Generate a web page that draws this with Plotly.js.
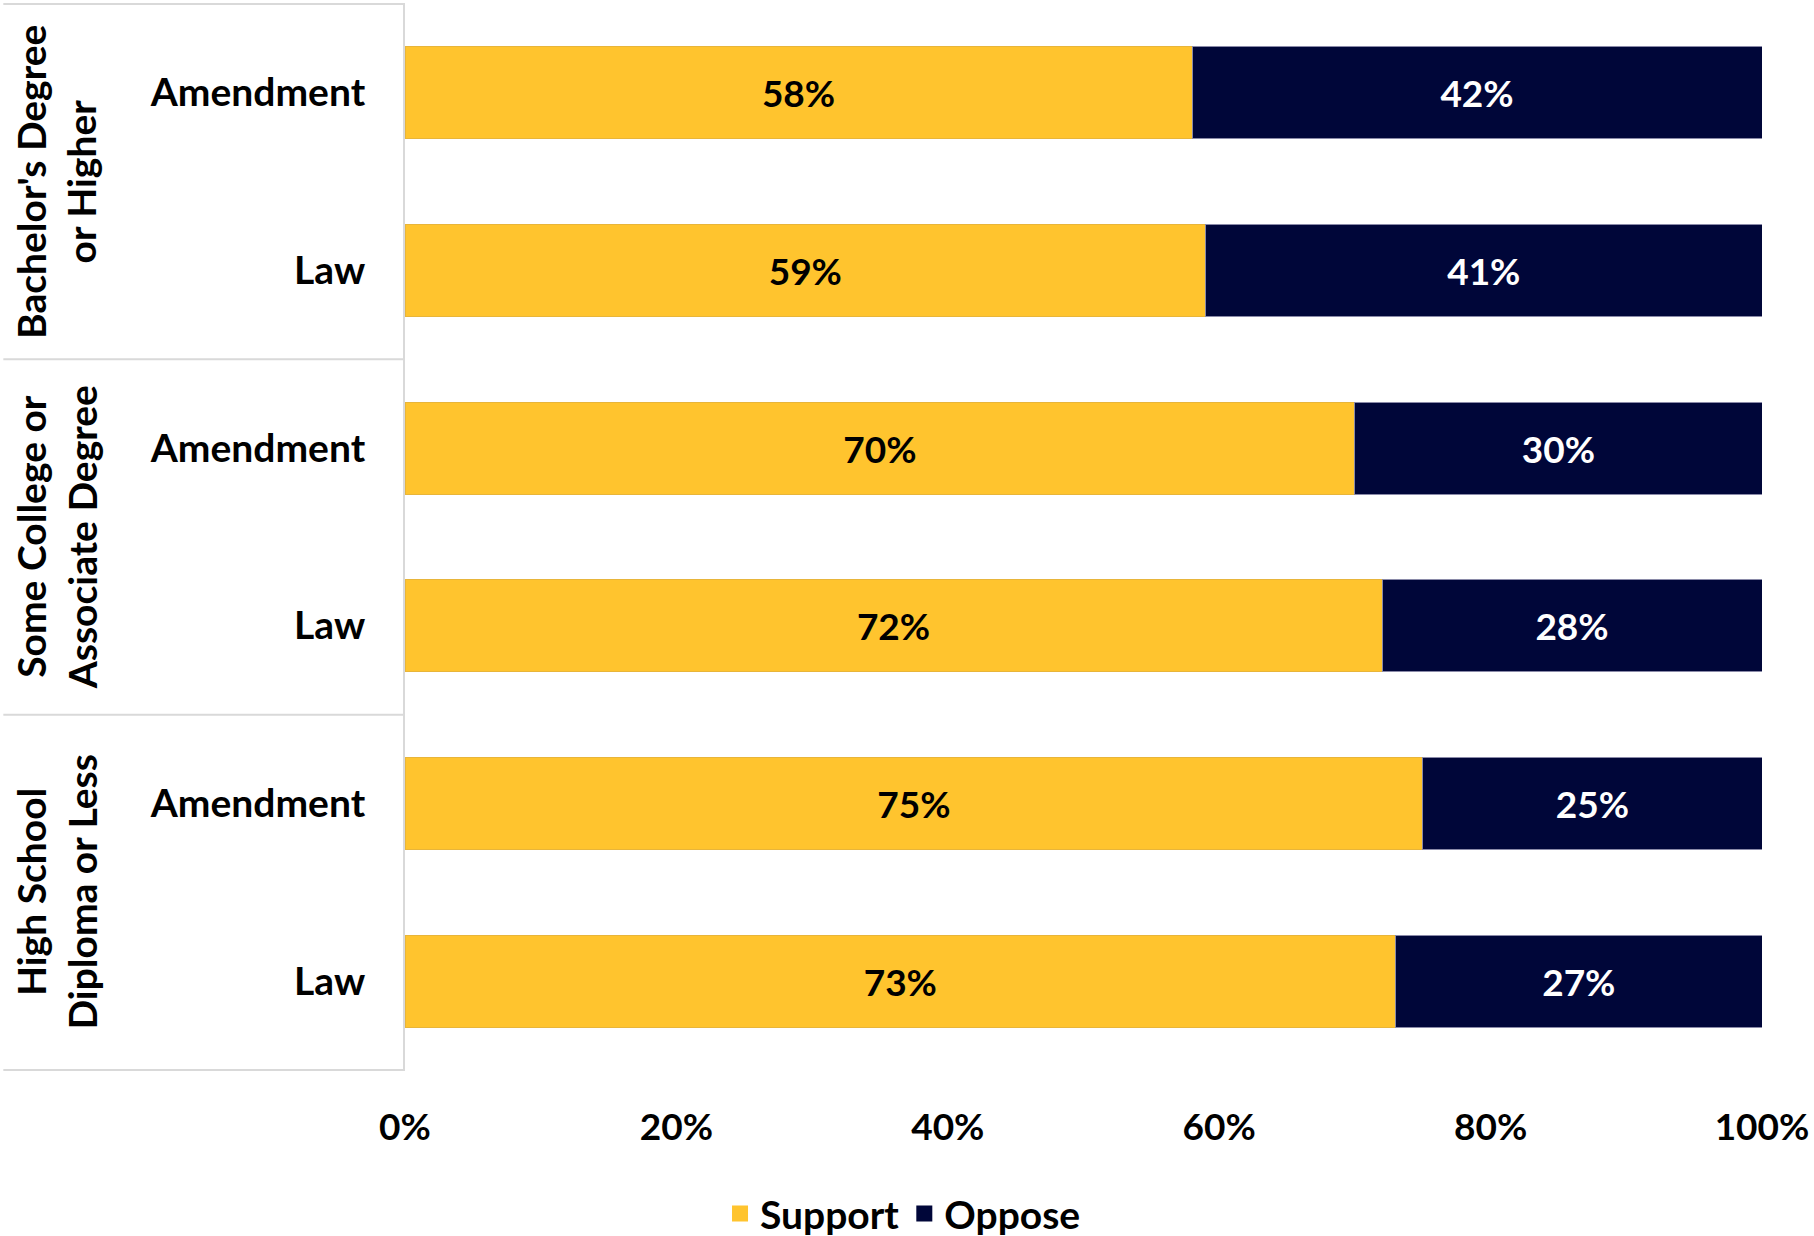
<!DOCTYPE html>
<html>
<head>
<meta charset="utf-8">
<script src="https://cdn.plot.ly/plotly-3.0.1.min.js"></script>
<style>html,body{margin:0;padding:0;background:#fff;}#chart{width:1814px;height:1236px;}</style>
</head>
<body>
<div id="chart"></div>
<script>
// ---- data ----
const rowIds = ["ba_amend", "ba_law", "sc_amend", "sc_law", "hs_amend", "hs_law"];
const rowLabels = ["Amendment", "Law", "Amendment", "Law", "Amendment", "Law"];
const groupLabels = ["Bachelor's Degree<br>or Higher", "Some College or<br>Associate Degree", "High School<br>Diploma or Less"];
const seriesNames = ["Support", "Oppose"];
const supportValues = [58, 59, 70, 72, 75, 73];
const opposeValues = [42, 41, 30, 28, 25, 27];
const xTickValues = [0, 20, 40, 60, 80, 100];
const xTickLabels = ["0%", "20%", "40%", "60%", "80%", "100%"];

const FONT = "Lato, 'Open Sans', sans-serif";
const YELLOW = "#FFC42E";
const NAVY = "#000639";
const GRID = "#d9d9d9";
const TXT = 39;
const NUM = 37;

const traces = [
  {
    type: "bar", orientation: "h", name: seriesNames[0], showlegend: false,
    x: supportValues, y: rowIds,
    marker: {color: YELLOW, line: {color: "#e8b53a", width: 1}},
    text: supportValues.map(v => v + "%"), textposition: "inside", insidetextanchor: "middle",
    textfont: {family: FONT, size: NUM, color: "#000000", weight: 700},
    hoverinfo: "skip"
  },
  {
    type: "bar", orientation: "h", name: seriesNames[1], showlegend: false,
    x: opposeValues, y: rowIds,
    marker: {color: NAVY, line: {color: "#8a8aa8", width: 1}},
    text: opposeValues.map(v => v + "%"), textposition: "inside", insidetextanchor: "middle",
    textfont: {family: FONT, size: NUM, color: "#ffffff", weight: 700},
    hoverinfo: "skip"
  },
  // legend entries (square swatches)
  {
    type: "scatter", mode: "markers", name: seriesNames[0],
    x: [null], y: [rowIds[0]],
    marker: {symbol: "square", size: 16, color: YELLOW, line: {width: 0}},
    hoverinfo: "skip"
  },
  {
    type: "scatter", mode: "markers", name: seriesNames[1],
    x: [null], y: [rowIds[0]],
    marker: {symbol: "square", size: 16, color: NAVY, line: {width: 0}},
    hoverinfo: "skip"
  }
];

const shapes = [];
const xLeft = -0.296;
[-0.5, 1.5, 3.5, 5.5].forEach(yv => {
  shapes.push({type: "line", xref: "paper", yref: "y", x0: xLeft, x1: 0, y0: yv, y1: yv, line: {color: GRID, width: 2}});
});

const annotations = groupLabels.map((g, i) => ({
  xref: "paper", yref: "y", x: -0.257, y: 2 * i + 0.5,
  text: g, showarrow: false, textangle: -90,
  font: {family: FONT, size: TXT, color: "#000000", weight: 700},
  align: "center", xanchor: "center", yanchor: "middle"
}));

const layout = {
  width: 1814, height: 1236,
  margin: {l: 405, r: 52, t: 3, b: 165, autoexpand: false},
  paper_bgcolor: "#ffffff", plot_bgcolor: "#ffffff",
  barmode: "stack", bargap: 0.483,
  showlegend: true,
  legend: {
    orientation: "h", x: 0.367, xanchor: "center",
    yref: "container", y: 0.018, yanchor: "middle",
    font: {family: FONT, size: TXT, color: "#000000", weight: 700},
    itemwidth: 30, traceorder: "normal", tracegroupgap: 0
  },
  xaxis: {
    range: [0, 100], tickvals: xTickValues, ticktext: xTickLabels,
    showgrid: false, zeroline: false, showline: false,
    ticks: "outside", ticklen: 24, tickcolor: "rgba(0,0,0,0)",
    tickfont: {family: FONT, size: NUM, color: "#000000", weight: 700},
    fixedrange: true
  },
  yaxis: {
    type: "category", categoryorder: "array", categoryarray: rowIds,
    autorange: "reversed", tickvals: rowIds, ticktext: rowLabels,
    showgrid: false, zeroline: false,
    showline: true, linecolor: GRID, linewidth: 2,
    ticks: "outside", ticklen: 30, tickcolor: "rgba(0,0,0,0)",
    tickfont: {family: FONT, size: TXT, color: "#000000", weight: 700},
    fixedrange: true
  },
  shapes: shapes,
  annotations: annotations
};

Plotly.newPlot("chart", traces, layout, {displayModeBar: false, staticPlot: true});
</script>
</body>
</html>
